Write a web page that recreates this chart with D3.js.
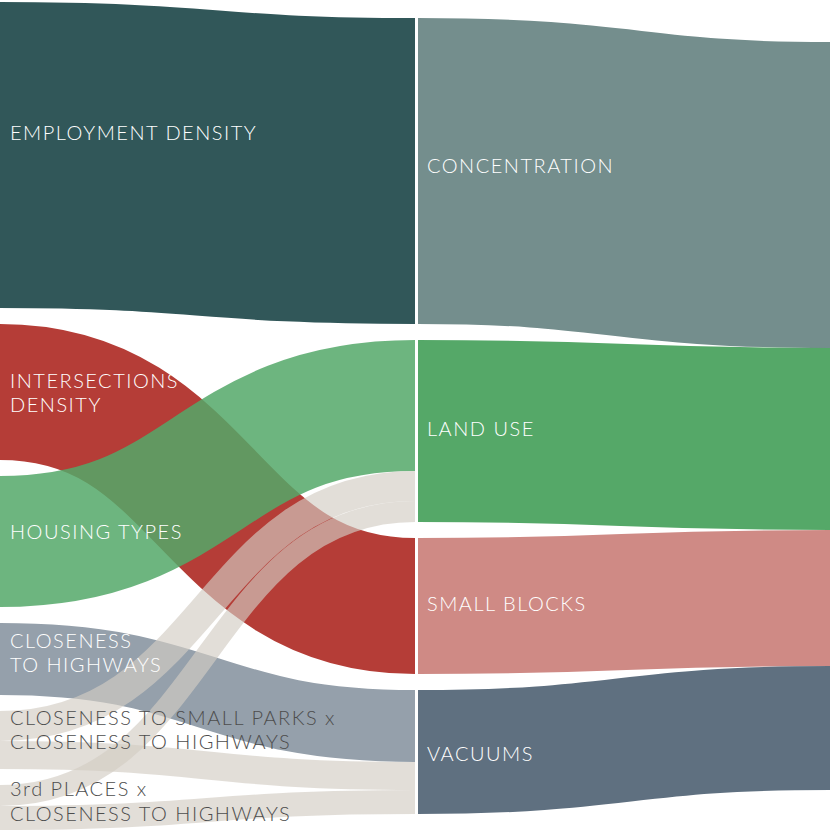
<!DOCTYPE html>
<html>
<head>
<meta charset="utf-8">
<script src="https://cdn.jsdelivr.net/npm/d3@7"></script>
<style>
  html, body { margin: 0; padding: 0; background: #ffffff; }
  svg { display: block; }
  text { font-family: Lato, "Open Sans", "Noto Sans", sans-serif; font-weight: 300; letter-spacing: 1.5px; }
</style>
</head>
<body>
<svg id="chart" width="830" height="835"></svg>
<script>
// ---------------- data ----------------
const leftNodes = ["EMPLOYMENT DENSITY", "INTERSECTIONS DENSITY", "HOUSING TYPES",
  "CLOSENESS TO HIGHWAYS", "CLOSENESS TO SMALL PARKS x CLOSENESS TO HIGHWAYS",
  "3rd PLACES x CLOSENESS TO HIGHWAYS"];
const leftLabelLines = [["EMPLOYMENT DENSITY"], ["INTERSECTIONS", "DENSITY"], ["HOUSING TYPES"],
  ["CLOSENESS", "TO HIGHWAYS"], ["CLOSENESS TO SMALL PARKS x", "CLOSENESS TO HIGHWAYS"],
  ["3rd PLACES x", "CLOSENESS TO HIGHWAYS"]];
const midNodes = ["CONCENTRATION", "LAND USE", "SMALL BLOCKS", "VACUUMS"];
const linkSource = [0, 1, 2, 3, 4, 4, 5, 5];
const linkTarget = [0, 2, 1, 3, 1, 3, 1, 3];
const linkValue  = [30.6, 13.6, 13.1, 7.2, 3.0, 2.8, 2.1, 2.4];

// ---------------- styles ----------------
const leftColors   = ["#315759", "#b53d37", "#53a869", "#95a0ab", "#d3cdc3", "#d3cdc3"];
const leftOpacity  = [1, 1, 0.85, 1, 0.65, 0.65];
const leftText     = ["#ffffff", "#ffffff", "#ffffff", "#ffffff", "#4d4d4d", "#4d4d4d"];
const midColors    = ["#748e8d", "#55a868", "#cf8a85", "#5f7080"];
const drawOrder    = [1, 2, 3, 4, 5, 0];
const labelNudge   = [-23, 0, -11, -7, -11, -7];
const midNudge     = [-6, -3, -3, 1];

// ---------------- layout ----------------
const W = 830, H = 835;
const xLeft = 0, xMidL = 415, xMidR = 418, xRight = 830;
const pad = 16, centerY = 416;
const colSpan = 828;

const links = linkValue.map((v, i) => ({ s: linkSource[i], t: linkTarget[i], v }));
const leftVal = leftNodes.map((_, i) => d3.sum(links.filter(l => l.s === i), l => l.v));
const midVal = midNodes.map((_, i) => d3.sum(links.filter(l => l.t === i), l => l.v));
const total = d3.sum(linkValue);

const h = d3.scaleLinear().domain([0, total]).range([0, colSpan - pad * (leftNodes.length - 1)]);

function stack(vals, gap) {
  const span = d3.sum(vals, v => h(v)) + gap * (vals.length - 1);
  let y = centerY - span / 2;
  return vals.map(v => { const n = { y0: y, y1: y + h(v) }; y = n.y1 + gap; return n; });
}
const L = stack(leftVal, pad);
const M = stack(midVal, pad);
const R = stack(midVal, 0);

// source side ordering (by target), target side ordering (by source)
L.forEach((n, i) => {
  let y = n.y0;
  links.filter(l => l.s === i).sort((a, b) => a.t - b.t).forEach(l => { l.sy = y + h(l.v) / 2; y += h(l.v); });
});
M.forEach((n, i) => {
  let y = n.y0;
  links.filter(l => l.t === i).sort((a, b) => a.s - b.s).forEach(l => { l.ty = y + h(l.v) / 2; y += h(l.v); });
});

const linkGen = d3.linkHorizontal();

const svg = d3.select("#chart");

// right-hand flows (middle -> off-canvas)
svg.append("g").attr("fill", "none").selectAll("path").data(midNodes).join("path")
  .attr("d", (d, i) => linkGen({ source: [xMidR, (M[i].y0 + M[i].y1) / 2], target: [xRight, (R[i].y0 + R[i].y1) / 2] }))
  .attr("stroke", (d, i) => midColors[i])
  .attr("stroke-width", (d, i) => h(midVal[i]));

// left flows
const ordered = [];
drawOrder.forEach(s => links.filter(l => l.s === s).forEach(l => ordered.push(l)));
svg.append("g").attr("fill", "none").selectAll("path").data(ordered).join("path")
  .attr("d", l => linkGen({ source: [xLeft, l.sy], target: [xMidL, l.ty] }))
  .attr("stroke", l => leftColors[l.s])
  .attr("stroke-opacity", l => leftOpacity[l.s])
  .attr("stroke-width", l => h(l.v));

// middle node column (white separator)
svg.append("rect")
  .attr("x", xMidL).attr("y", 0)
  .attr("width", xMidR - xMidL).attr("height", H)
  .attr("fill", "#ffffff");

// left labels
const lineH = 24.5, fs = 20;
const lg = svg.append("g");
leftLabelLines.forEach((lines, i) => {
  const cy = (L[i].y0 + L[i].y1) / 2 + labelNudge[i];
  const t = lg.append("text")
    .attr("x", 10)
    .attr("fill", leftText[i])
    .attr("font-size", fs);
  lines.forEach((ln, j) => {
    t.append("tspan")
      .attr("x", 10)
      .attr("y", cy + (j - (lines.length - 1) / 2) * lineH)
      .attr("dominant-baseline", "central")
      .text(ln);
  });
});

// middle labels
svg.append("g").selectAll("text").data(midNodes).join("text")
  .attr("x", 427)
  .attr("y", (d, i) => (M[i].y0 + M[i].y1) / 2 + midNudge[i])
  .attr("dominant-baseline", "central")
  .attr("fill", "#ffffff")
  .attr("font-size", fs)
  .text(d => d);
</script>
</body>
</html>
